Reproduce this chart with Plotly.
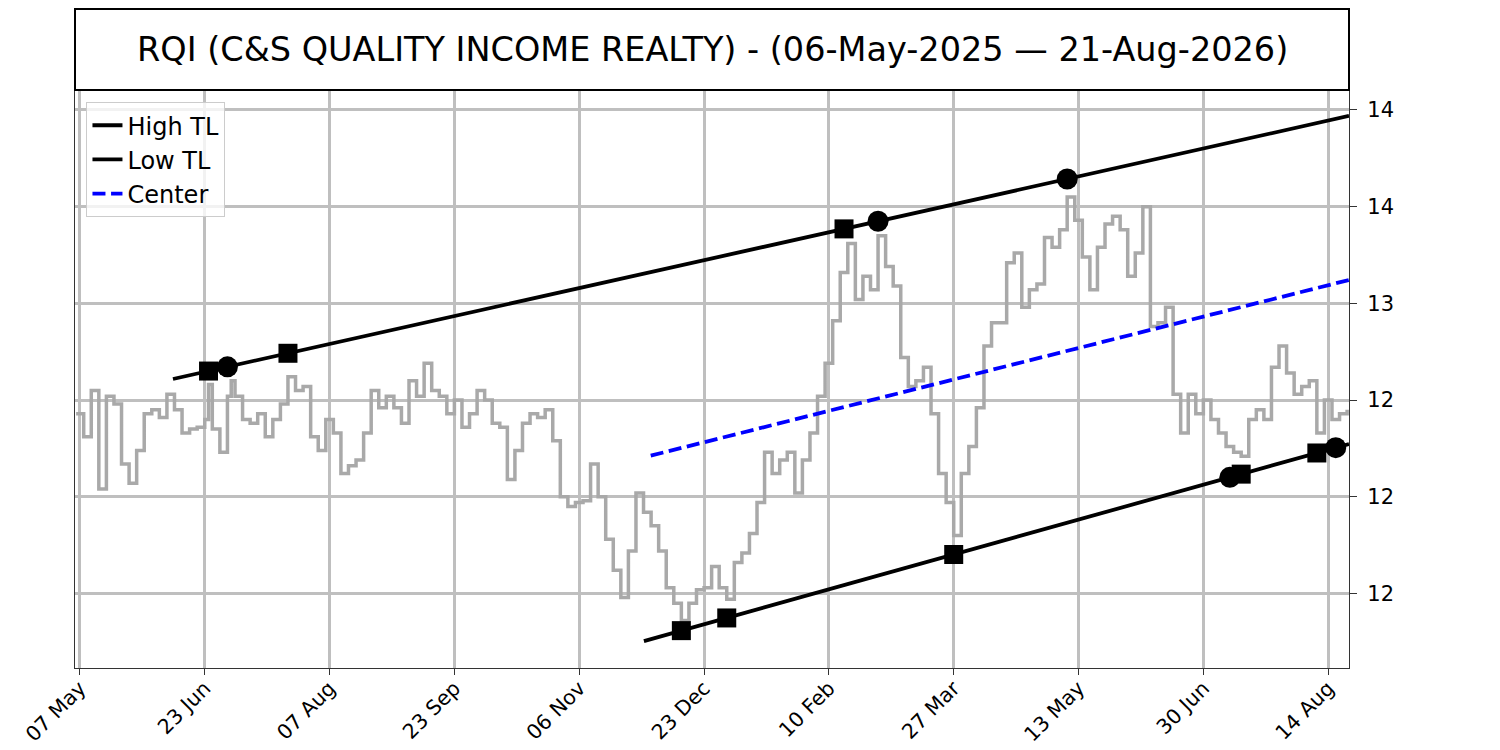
import plotly.graph_objects as go

# trading-day index (0 = 06 May 2025) and closing price
days = [0, 2, 4, 6, 8, 10, 12, 14, 16, 18, 20, 22, 24, 26, 28, 30, 32, 34, 35, 36,
        38, 40, 41, 42, 44, 46, 48, 50, 52, 54, 56, 58, 60, 62, 64, 66, 68, 70, 72, 74,
        76, 78, 80, 82, 84, 86, 88, 90, 92, 94, 96, 98, 100, 102, 104, 106, 108, 110, 112, 114,
        116, 118, 120, 122, 124, 126, 128, 130, 132, 134, 136, 138, 140, 142, 144, 146, 148, 150, 152, 154,
        156, 158, 160, 162, 164, 166, 168, 170, 172, 174, 176, 178, 180, 182, 184, 186, 188, 190, 192, 194,
        196, 198, 200, 202, 204, 206, 208, 210, 212, 214, 216, 218, 220, 222, 224, 226, 228, 230, 232, 234,
        236, 238, 240, 242, 244, 246, 248, 250, 252, 254, 256, 258, 260, 262, 264, 266, 268, 270, 272, 274,
        276, 278, 280, 282, 284, 286, 288, 290, 292, 294, 296, 298, 300, 302, 304, 306, 308, 310, 312, 314,
        316, 318, 320, 322, 324, 326, 328, 330, 332, 334, 336]
close = [12.43, 12.31, 12.55, 12.04, 12.52, 12.48, 12.17, 12.07, 12.24, 12.43, 12.45, 12.41, 12.53, 12.45, 12.33, 12.35, 12.36, 12.40, 12.58, 12.35,
         12.23, 12.52, 12.60, 12.52, 12.40, 12.38, 12.43, 12.31, 12.40, 12.48, 12.62, 12.55, 12.57, 12.31, 12.24, 12.40, 12.33, 12.12, 12.16, 12.19,
         12.33, 12.55, 12.46, 12.52, 12.46, 12.38, 12.60, 12.52, 12.69, 12.55, 12.52, 12.43, 12.50, 12.36, 12.43, 12.55, 12.50, 12.38, 12.36, 12.09,
         12.24, 12.38, 12.43, 12.41, 12.45, 12.29, 12.00, 11.95, 11.97, 11.98, 12.17, 12.00, 11.78, 11.62, 11.48, 11.72, 12.02, 11.92, 11.85, 11.72,
         11.53, 11.45, 11.36, 11.45, 11.52, 11.53, 11.64, 11.53, 11.47, 11.66, 11.71, 11.81, 11.97, 12.23, 12.12, 12.19, 12.23, 12.02, 12.19, 12.33,
         12.52, 12.69, 12.91, 13.16, 13.31, 13.02, 13.14, 13.07, 13.35, 13.19, 13.09, 12.72, 12.57, 12.60, 12.67, 12.43, 12.12, 11.97, 11.80, 12.12,
         12.26, 12.46, 12.78, 12.90, 12.90, 13.21, 13.26, 12.98, 13.07, 13.10, 13.34, 13.29, 13.38, 13.55, 13.43, 13.24, 13.07, 13.29, 13.41, 13.45,
         13.38, 13.14, 13.26, 13.50, 12.88, 12.90, 12.98, 12.53, 12.33, 12.53, 12.43, 12.50, 12.40, 12.33, 12.26, 12.23, 12.21, 12.40, 12.45, 12.40,
         12.67, 12.78, 12.64, 12.53, 12.57, 12.60, 12.33, 12.50, 12.40, 12.43, 12.45]

# trendlines: start day, start value, end day, end value
high_tl = [25.6, 12.609, 336.5, 13.969]
low_tl = [150.1, 11.254, 336.5, 12.273]
center_start = 151.9

high_squares = [35, 56, 203]
high_circles = [40, 212, 262]
low_squares = [160, 172, 232, 308, 328]
low_circles = [305, 333]

tick_days = [1, 34, 67, 100, 133, 166, 199, 232, 265, 298, 331]
tick_labels = ['07 May', '23 Jun', '07 Aug', '23 Sep', '06 Nov', '23 Dec',
               '10 Feb', '27 Mar', '13 May', '30 Jun', '14 Aug']
y_ticks = [11.5, 12.0, 12.5, 13.0, 13.5, 14.0]
y_labels = ['12', '12', '12', '13', '14', '14']


def tl_value(tl, d):
    slope = (tl[3] - tl[1]) / (tl[2] - tl[0])
    return tl[1] + slope * (d - tl[0])


def center_value(d):
    return (tl_value(high_tl, d) + tl_value(low_tl, d)) / 2


fig = go.Figure()
fig.add_trace(go.Scatter(x=days, y=close, mode='lines', showlegend=False,
                         line=dict(color='#a9a9a9', width=3.5, shape='hv'), hoverinfo='skip'))
fig.add_trace(go.Scatter(x=[high_tl[0], high_tl[2]], y=[high_tl[1], high_tl[3]],
                         mode='lines', name='High TL', line=dict(color='black', width=3.8)))
fig.add_trace(go.Scatter(x=[low_tl[0], low_tl[2]], y=[low_tl[1], low_tl[3]],
                         mode='lines', name='Low TL', line=dict(color='black', width=3.8)))
fig.add_trace(go.Scatter(x=[center_start, high_tl[2]],
                         y=[center_value(center_start), center_value(high_tl[2])],
                         mode='lines', name='Center',
                         line=dict(color='blue', width=3.8, dash='13px,5.6px')))

for pts, tl, sym in [(high_squares, high_tl, 'square'), (high_circles, high_tl, 'circle'),
                     (low_squares, low_tl, 'square'), (low_circles, low_tl, 'circle')]:
    fig.add_trace(go.Scatter(x=pts, y=[tl_value(tl, d) for d in pts], mode='markers',
                             showlegend=False,
                             marker=dict(symbol=sym, color='black',
                                         size=19 if sym == 'square' else 21)))

# title box
fig.add_shape(type='rect', xref='paper', yref='paper', x0=0, x1=1, y0=1, y1=1.14,
              line=dict(color='black', width=2), fillcolor='white', layer='above')
fig.add_annotation(xref='paper', yref='paper', x=0.5, y=1.07, showarrow=False,
                   text='RQI (C&S QUALITY INCOME REALTY) - (06-May-2025 \u2014 21-Aug-2026)',
                   font=dict(size=33.5, color='black'), yanchor='middle')

fig.update_layout(
    width=1492, height=742,
    margin=dict(l=67, r=151, t=82, b=82),
    paper_bgcolor='white', plot_bgcolor='white',
    font=dict(family='DejaVu Sans', color='black'),
    legend=dict(x=0.009, y=0.979, xanchor='left', yanchor='top',
                bgcolor='rgba(255,255,255,0.8)', bordercolor='#cccccc', borderwidth=1,
                font=dict(size=24), itemwidth=30, tracegroupgap=0),
)
fig.update_xaxes(range=[-0.3, 336.5], tickvals=tick_days, ticktext=tick_labels,
                 tickangle=-45, tickfont=dict(size=20.5), ticks='outside', ticklen=6,
                 tickcolor='#333333', showgrid=True, gridcolor='#bfbfbf', gridwidth=3,
                 showline=True, linecolor='#333333', linewidth=1.3, mirror=True,
                 zeroline=False, automargin=False, ticklabelstandoff=-7)
fig.update_yaxes(range=[11.115, 14.103], tickvals=y_ticks, ticktext=y_labels,
                 side='right', tickfont=dict(size=21), ticks='outside', ticklen=7,
                 tickcolor='#333333', showgrid=True, gridcolor='#bfbfbf', gridwidth=3,
                 showline=True, linecolor='#333333', linewidth=1.3, mirror=True,
                 zeroline=False, ticklabelstandoff=6, automargin=False)

fig.write_html('out.html')
